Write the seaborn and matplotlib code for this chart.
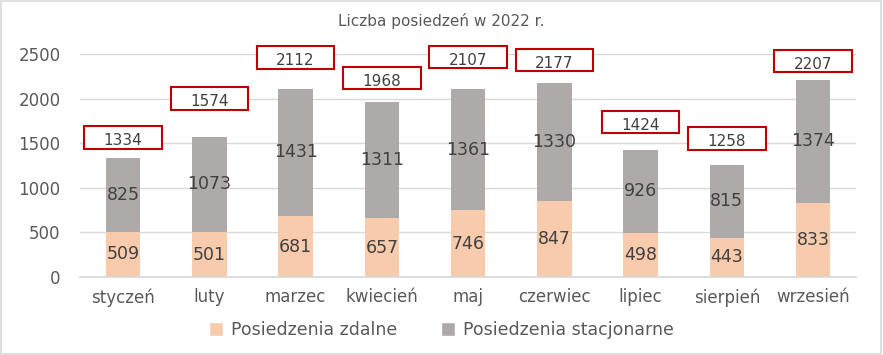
import matplotlib
matplotlib.use("Agg")
import matplotlib.pyplot as plt
import seaborn as sns
import pandas as pd
from matplotlib.patches import Rectangle, Patch

months = ["styczeń", "luty", "marzec", "kwiecień", "maj", "czerwiec", "lipiec", "sierpień", "wrzesień"]
zdalne = [509, 501, 681, 657, 746, 847, 498, 443, 833]
stacjonarne = [825, 1073, 1431, 1311, 1361, 1330, 926, 815, 1374]
totals = [1334, 1574, 2112, 1968, 2107, 2177, 1424, 1258, 2207]
# vertical centre of each red total box (data units), as seen in the reference
box_centres = [1564, 2001, 2461, 2231, 2466, 2433, 1738, 1553, 2422]

sns.set_theme(style="white")
plt.rcParams['font.family'] = ['DejaVu Sans']

c_zd = "#F8CBAD"
c_st = "#AEAAAA"
txt = "#404040"

df = pd.DataFrame({"month": months, "zdalne": zdalne, "stacjonarne": stacjonarne, "total": totals})

fig = plt.figure(figsize=(8.83, 3.55), dpi=100)
ax = fig.add_axes([0.0906, 0.2197, 0.879, 0.628])

sns.barplot(data=df, x="month", y="total", color=c_st, width=0.4, ax=ax, saturation=1,
            linewidth=0, edgecolor="none")
sns.barplot(data=df, x="month", y="zdalne", color=c_zd, width=0.4, ax=ax, saturation=1,
            linewidth=0, edgecolor="none")

ax.set_xlim(-0.5, len(months) - 0.5)
ax.set_ylim(0, 2500)
ax.set_yticks([0, 500, 1000, 1500, 2000, 2500])
ax.yaxis.grid(True, color="#D9D9D9", linewidth=1)
ax.set_axisbelow(True)
for s in ["top", "right", "left"]:
    ax.spines[s].set_visible(False)
ax.spines["bottom"].set_color("#D9D9D9")
ax.tick_params(axis="both", length=0, labelsize=12, labelcolor="#595959")
ax.tick_params(axis="y", pad=14)
ax.tick_params(axis="x", pad=8)
ax.set_xlabel("")
ax.set_ylabel("")

for i in range(len(months)):
    ax.text(i, zdalne[i] / 2, str(zdalne[i]), ha="center", va="center", fontsize=12.5, color=txt)
    ax.text(i, zdalne[i] + stacjonarne[i] / 2, str(stacjonarne[i]), ha="center", va="center",
            fontsize=12.5, color=txt)
    bh = 255
    ax.add_patch(Rectangle((i - 0.45, box_centres[i] - bh / 2), 0.9, bh, fill=True,
                           facecolor="white", edgecolor="#C00000", linewidth=1.5, clip_on=False, zorder=5))
    ax.text(i, box_centres[i] - 35, str(totals[i]), ha="center", va="center", fontsize=11,
            color=txt, zorder=6, clip_on=False)

fig.text(0.5, 0.94, "Liczba posiedzeń w 2022 r.", ha="center", va="center", fontsize=11, color="#595959")

handles = [Patch(facecolor=c_zd, label="Posiedzenia zdalne"),
           Patch(facecolor=c_st, label="Posiedzenia stacjonarne")]
leg = fig.legend(handles=handles, loc="center", bbox_to_anchor=(0.5, 0.07), ncol=2, frameon=False,
                 fontsize=12.5, handlelength=0.8, handleheight=0.8, columnspacing=2.5, handletextpad=0.5)
for t in leg.get_texts():
    t.set_color("#595959")

fig.patches.append(Rectangle((0.001, 0.003), 0.997, 0.994, transform=fig.transFigure, fill=False,
                             edgecolor="#D9D9D9", linewidth=1.2))

fig.savefig("out.png", dpi=100)
